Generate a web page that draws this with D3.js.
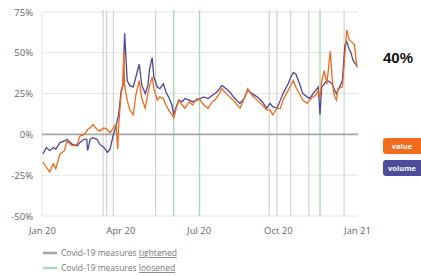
<!DOCTYPE html>
<html>
<head>
<meta charset="utf-8">
<script src="https://cdn.jsdelivr.net/npm/d3@7"></script>
<style>
  body { margin: 0; background: #fff; }
  svg { display: block; font-family: "Open Sans", sans-serif; }
</style>
</head>
<body>
<svg id="chart" width="421" height="276"></svg>
<script>
// days since 1 Jan 2020
var days = [1,5,9,13,16,21,26,29,35,41,44,49,52,53,56,59,64,67,72,76,79,83,86,88,89,92,94,95,96,99,
  102,106,109,113,116,120,123,125,128,130,134,137,141,144,147,151,153,156,159,163,166,171,175,180,184,
  188,193,198,201,205,209,214,218,224,230,235,239,244,250,256,261,265,268,273,277,280,286,289,292,295,
  300,303,308,311,315,318,321,323,325,328,331,335,337,339,342,344,349,352,354,357,359,361,363,366];
var valueSeries = [-17,-20,-23,-18,-21,-12,-10,-4,-7,-6,-1,0,2,3,4,6,3,2,4,3,1,4,6,-9,5,25,30,51,30,21,
  15,12,24,33,22,16,25,30,35,28,21,23,22,18,15,12,10,16,21,18,16,20,18,22,21,
  18,16,20,21,24,28,25,23,20,16,22,28,24,21,18,15,15,12,16,16,21,27,30,33,29,
  24,21,19,21,23,24,27,22,33,39,31,51,35,25,21,28,29,49,64,58,57,56,55,41];
var volumeSeries = [-12,-8,-10,-8,-9,-5,-4,-3,-6,-7,-5,-3,-3,-10,-3,-2,-3,-6,-8,-11,-9,0,5,10,12,27,30,45,62,33,
  30,29,35,43,30,25,30,40,47,35,29,28,31,26,23,18,12,17,21,20,22,21,20,21,22,
  23,22,24,25,27,30,28,26,22,19,22,27,25,23,20,16,19,17,16,21,25,31,35,38,37,
  30,25,23,22,25,27,29,12,29,31,33,32,31,28,25,27,33,55,57,52,50,46,44,42];
var yTicks = [75, 50, 25, 0, -25, -50];
var xTickLabels = ["Jan 20", "Apr 20", "Jul 20", "Oct 20", "Jan 21"];
var tightenedDays = [71, 75, 83, 132, 264, 273, 289, 310, 351];
var loosenedDays = [153, 183, 323];

var svg = d3.select("#chart");
var start = new Date(2020, 0, 1);
var toDate = function(d) { return d3.timeDay.offset(start, d); };

var x = d3.scaleTime().domain([start, new Date(2021, 0, 1)]).range([42, 357]);
var y = d3.scaleLinear().domain([-50, 75]).range([216, 12]);

// horizontal grid
svg.append("g").selectAll("line").data(yTicks.filter(function(t) { return t !== 0; }))
  .join("line")
  .attr("x1", 42).attr("x2", 358)
  .attr("y1", function(d) { return y(d); }).attr("y2", function(d) { return y(d); })
  .attr("stroke", "#e4e4e4").attr("stroke-width", 1);

svg.append("line").attr("x1", 42).attr("x2", 42).attr("y1", 12).attr("y2", 216)
  .attr("stroke", "#e4e4e4");

// event lines
svg.append("g").selectAll("line").data(tightenedDays).join("line")
  .attr("x1", function(d) { return x(toDate(d)); }).attr("x2", function(d) { return x(toDate(d)); })
  .attr("y1", 10).attr("y2", 216)
  .attr("stroke", "#d2d2d2").attr("stroke-width", 1.2);
svg.append("g").selectAll("line").data(loosenedDays).join("line")
  .attr("x1", function(d) { return x(toDate(d)); }).attr("x2", function(d) { return x(toDate(d)); })
  .attr("y1", 10).attr("y2", 216)
  .attr("stroke", "#a9d8b8").attr("stroke-width", 1.4);

// zero line
svg.append("line").attr("x1", 42).attr("x2", 358).attr("y1", y(0)).attr("y2", y(0))
  .attr("stroke", "#a6a6a6").attr("stroke-width", 1.8);

// y axis labels
var yAxis = d3.axisLeft(y).tickValues(yTicks).tickSize(0).tickPadding(9)
  .tickFormat(function(d) { return d + "%"; });
var gy = svg.append("g").attr("transform", "translate(42,0)").call(yAxis);
gy.select(".domain").remove();
gy.selectAll("text").attr("fill", "#666").style("font-size", "9.5px").style("font-family", "Open Sans");

// x axis labels
var xAxis = d3.axisBottom(x).ticks(d3.timeMonth.every(3)).tickSize(0).tickPadding(9)
  .tickFormat(function(d, i) { return xTickLabels[i]; });
var gx = svg.append("g").attr("transform", "translate(0,218)").call(xAxis);
gx.select(".domain").remove();
gx.selectAll("text").attr("fill", "#666").style("font-size", "9.5px").style("font-family", "Open Sans");

// series
var line = d3.line().x(function(d) { return x(toDate(d[0])); }).y(function(d) { return y(d[1]); });
svg.append("path").datum(d3.zip(days, volumeSeries))
  .attr("d", line).attr("fill", "none").attr("stroke", "#4a4794").attr("stroke-width", 1.3);
svg.append("path").datum(d3.zip(days, valueSeries))
  .attr("d", line).attr("fill", "none").attr("stroke", "#ee6a1f").attr("stroke-width", 1.3);

// headline
svg.append("text").attr("x", 398).attr("y", 63).attr("text-anchor", "middle")
  .style("font-family", "Liberation Sans").style("font-weight", "bold").style("font-size", "15px")
  .attr("fill", "#111").text("40%");

// series tags
var tags = [{ label: "value", color: "#f26a1b", y: 138 }, { label: "volume", color: "#4d4b9b", y: 160 }];
var tg = svg.append("g").selectAll("g").data(tags).join("g");
tg.append("rect").attr("x", 383).attr("y", function(d) { return d.y; })
  .attr("width", 44).attr("height", 16).attr("rx", 3).attr("fill", function(d) { return d.color; });
tg.append("text").attr("x", 402).attr("y", function(d) { return d.y + 11; })
  .attr("text-anchor", "middle").attr("fill", "#fff")
  .style("font-size", "7.5px").style("font-weight", "bold").text(function(d) { return d.label; });

// legend
var legend = [
  { pre: "Covid-19 measures ", word: "tightened", color: "#a6a6a6", y: 253 },
  { pre: "Covid-19 measures ", word: "loosened", color: "#a9d8b8", y: 268 }
];
var lg = svg.append("g").selectAll("g").data(legend).join("g");
lg.append("line").attr("x1", 43).attr("x2", 57)
  .attr("y1", function(d) { return d.y; }).attr("y2", function(d) { return d.y; })
  .attr("stroke", function(d) { return d.color; }).attr("stroke-width", 2.5);
var lt = lg.append("text").attr("x", 61).attr("y", function(d) { return d.y + 3; })
  .attr("fill", "#777").style("font-size", "8.5px");
lt.append("tspan").text(function(d) { return d.pre; });
lt.append("tspan").attr("text-decoration", "underline").text(function(d) { return d.word; });
</script>
</body>
</html>
